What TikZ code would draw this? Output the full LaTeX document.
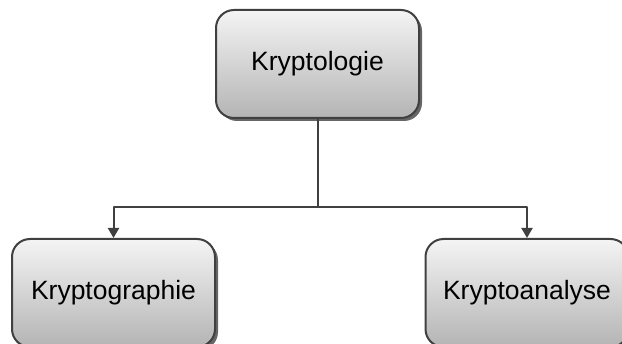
\documentclass[tikz,border=0pt]{standalone}
\usepackage{fontspec}
\setmainfont{Liberation Sans}
\usetikzlibrary{arrows.meta,shadows}
\definecolor{edgegray}{HTML}{404040}
\definecolor{boxtop}{HTML}{F4F4F4}
\definecolor{boxbottom}{HTML}{B4B4B4}
\begin{document}
\begin{tikzpicture}[x=1pt, y=-1pt, line cap=round, line join=round,
    box/.style={draw=edgegray, line width=2pt, rounded corners=18pt,
        top color=boxtop, bottom color=boxbottom,
        minimum width=203pt, minimum height=108pt,
        font=\fontsize{26.5}{30}\selectfont,
        drop shadow={shadow xshift=3pt, shadow yshift=-3pt, fill=edgegray, opacity=0.8}},
    link/.style={draw=edgegray, line width=2pt},
    arrow/.style={link, -{Triangle[width=11pt,length=10pt]}}]
    \useasboundingbox (0,0) rectangle (622,344);
    \clip (0,0) rectangle (622,344);
    \node[box] (logie) at (317.5,64) {Kryptologie};
    \node[box] (graphie) at (113.5,293) {Kryptographie};
    \node[box] (analyse) at (527,293) {Kryptoanalyse};
    \coordinate (split) at (317.5,207);
    \draw[link] (logie.south) -- (split);
    \foreach \target in {graphie, analyse}
        \draw[arrow] (split) -| (\target.north);
\end{tikzpicture}
\end{document}
